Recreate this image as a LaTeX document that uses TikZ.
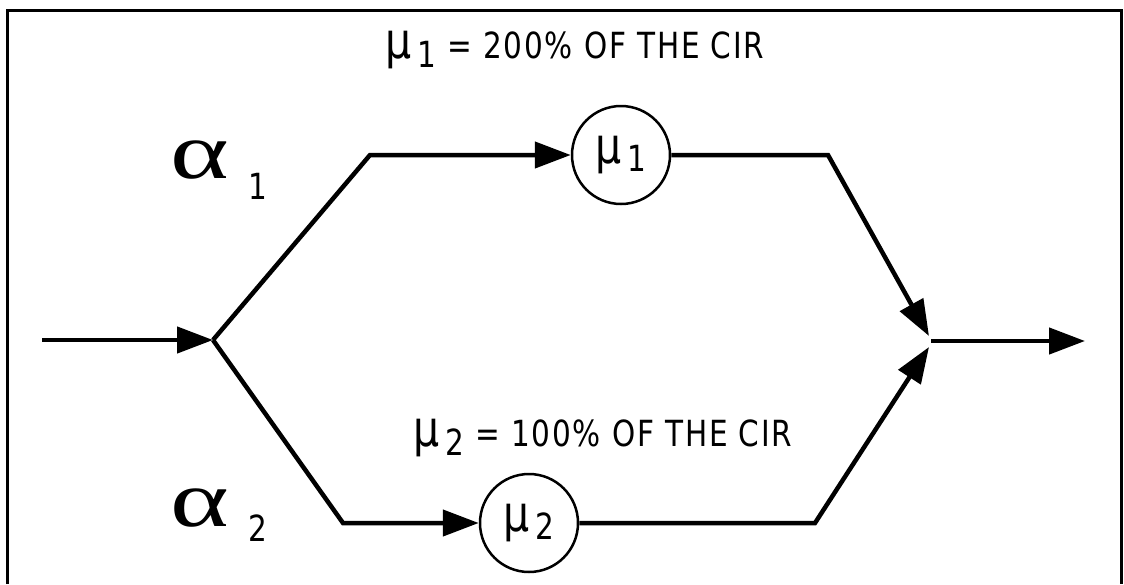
\documentclass[tikz,border=0pt]{standalone}
\usepackage{fontspec}
\usepackage{graphicx}
\setmainfont{DejaVu Sans}[FakeStretch=0.82, LetterSpace=5]
\newfontfamily\greekfont{Liberation Serif}
\usetikzlibrary{arrows.meta}
\newcommand{\bigmu}{{\fontsize{50}{50}\selectfont μ}}
\begin{document}
\begin{tikzpicture}[x=1pt,y=-1pt,
  flow/.style={line width=4.5pt, line join=miter},
  tip/.style={-{Triangle[length=36pt,width=26pt]}},
  server/.style={circle, draw, line width=2.5pt, minimum size=98pt, inner sep=0pt, font=\fontsize{36}{36}\selectfont},
  lbl/.style={font=\fontsize{36}{36}\selectfont, inner sep=0pt},
  greek/.style={font=\greekfont\fontsize{80}{80}\selectfont, inner sep=0pt},
]
\useasboundingbox (0,0) rectangle (1124,584);
\draw[line width=3pt] (7,584) -- (7,10) -- (1121,10) -- (1121,584);

\coordinate (in) at (42,340);
\coordinate (J) at (213,340);
\coordinate (u1) at (370,155);
\node[server] (m1) at (621,155) {\bigmu\,\raisebox{-8pt}{1}};
\coordinate (u2) at (828,155);
\coordinate (Mu) at (929,336);
\coordinate (l1) at (343,523);
\node[server] (m2) at (529,523) {\bigmu\,\raisebox{-8pt}{2}};
\coordinate (l2) at (815,523);
\coordinate (Ml) at (929,347);
\coordinate (M) at (931,341);
\coordinate (out) at (1085,341);

\draw[flow,tip] (in) -- (J);
\draw[flow,tip] (J) -- (u1) -- (m1);
\draw[flow,tip] (m1) -- (u2) -- (Mu);
\draw[flow,tip] (J) -- (l1) -- (m2);
\draw[flow,tip] (m2) -- (l2) -- (Ml);
\draw[flow,tip] (M) -- (out);

\node[lbl, anchor=west] (t1) at (385,50) {\bigmu\,\raisebox{-9pt}{1} = 200\% OF THE CIR};
\node[lbl, anchor=west] (t2) at (413,438) {\bigmu\,\raisebox{-9pt}{2} = 100\% OF THE CIR};

\node[greek] (a1) at (200,160) {\scalebox{1.4}[1]{α}};
\node[lbl] (s1) at (258,186) {1};
\node[greek] (a2) at (200,508) {\scalebox{1.4}[1]{α}};
\node[lbl] (s2) at (258,528) {2};
\end{tikzpicture}
\end{document}
